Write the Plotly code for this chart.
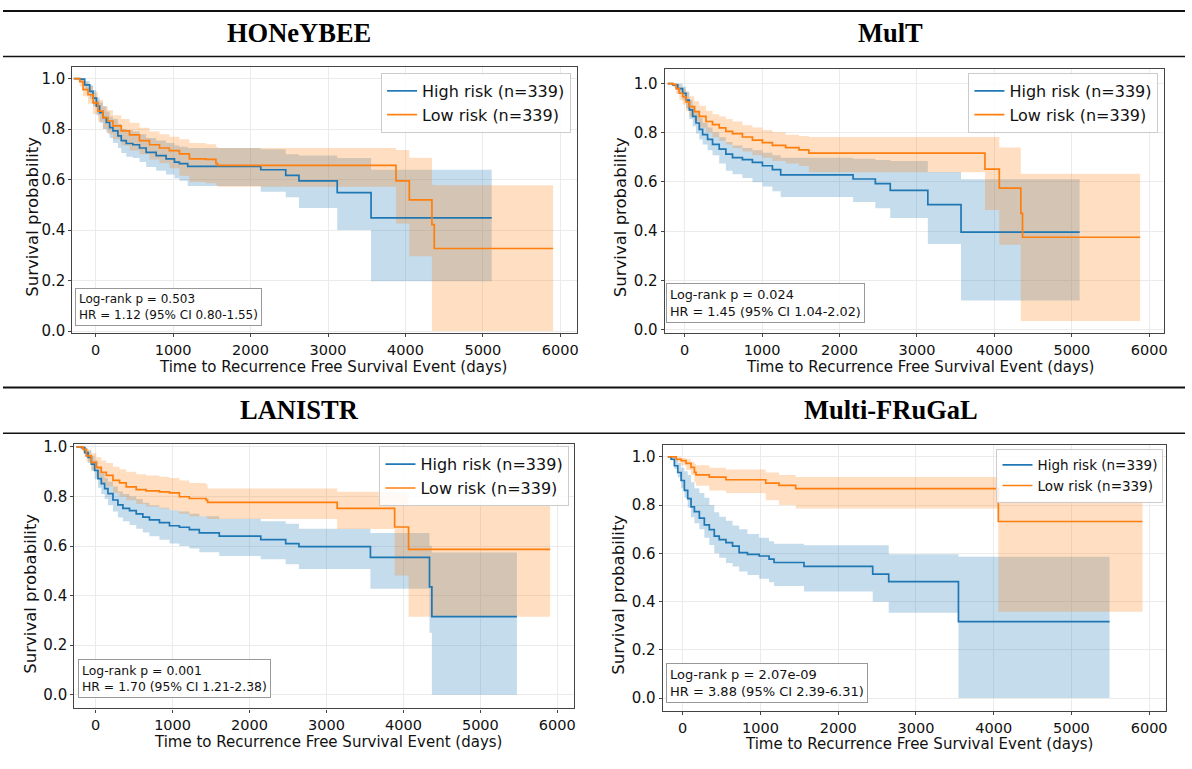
import plotly.graph_objects as go

W, H = 1192, 769
BLUE = "#1f77b4"
ORANGE = "#ff7f0e"
BLUE_FILL = "rgba(31,119,180,0.26)"
ORANGE_FILL = "rgba(255,127,14,0.26)"

# ---------------- data ----------------
titles = ["HONeYBEE", "MulT", "LANISTR", "Multi-FRuGaL"]
legend_labels = ["High risk (n=339)", "Low risk (n=339)"]
stats_text = [
    "Log-rank p = 0.503<br>HR = 1.12 (95% CI 0.80-1.55)",
    "Log-rank p = 0.024<br>HR = 1.45 (95% CI 1.04-2.02)",
    "Log-rank p = 0.001<br>HR = 1.70 (95% CI 1.21-2.38)",
    "Log-rank p = 2.07e-09<br>HR = 3.88 (95% CI 2.39-6.31)",
]
x_title = "Time to Recurrence Free Survival Event (days)"
y_title = "Survival probability"
x_ticks = [0, 1000, 2000, 3000, 4000, 5000, 6000]
y_ticks = [0.0, 0.2, 0.4, 0.6, 0.8, 1.0]

# HONeYBEE - high risk
hb_high_t = [-283, -206, -142, -77, -34, 9, 51, 94, 137, 180, 223, 287, 330, 395, 480, 566, 652, 781, 909, 1017, 1081, 1188, 2132, 2454, 2625, 3119, 3556]
hb_high_s = [1.0, 0.998, 0.975, 0.949, 0.923, 0.891, 0.865, 0.845, 0.826, 0.806, 0.793, 0.773, 0.754, 0.743, 0.738, 0.725, 0.708, 0.695, 0.682, 0.669, 0.663, 0.652, 0.639, 0.617, 0.595, 0.548, 0.448]
hb_high_lo = [1.0, 0.99, 0.955, 0.92, 0.89, 0.855, 0.825, 0.80, 0.785, 0.765, 0.745, 0.725, 0.705, 0.69, 0.685, 0.67, 0.65, 0.635, 0.62, 0.605, 0.595, 0.575, 0.552, 0.53, 0.487, 0.40, 0.197]
hb_high_hi = [1.0, 1.0, 0.99, 0.975, 0.955, 0.925, 0.905, 0.89, 0.87, 0.85, 0.84, 0.82, 0.80, 0.795, 0.79, 0.78, 0.765, 0.755, 0.745, 0.735, 0.73, 0.725, 0.72, 0.70, 0.695, 0.685, 0.639]
hb_high_end = 5114
# HONeYBEE - low risk
hb_low_t = [-283, -206, -163, -99, -34, 30, 94, 158, 223, 330, 437, 566, 695, 824, 952, 1081, 1210, 1424, 1553, 1574, 3878, 4050, 4342, 4372]
hb_low_s = [1.0, 0.988, 0.956, 0.936, 0.904, 0.871, 0.845, 0.832, 0.8125, 0.793, 0.777, 0.754, 0.738, 0.725, 0.715, 0.702, 0.682, 0.680, 0.663, 0.656, 0.595, 0.520, 0.422, 0.327]
hb_low_lo = [1.0, 0.97, 0.93, 0.90, 0.86, 0.83, 0.80, 0.78, 0.76, 0.735, 0.715, 0.70, 0.68, 0.665, 0.645, 0.615, 0.59, 0.585, 0.578, 0.572, 0.426, 0.296, 0.0, 0.0]
hb_low_hi = [1.0, 1.0, 0.985, 0.97, 0.945, 0.915, 0.89, 0.875, 0.855, 0.84, 0.825, 0.805, 0.79, 0.78, 0.77, 0.76, 0.745, 0.74, 0.73, 0.725, 0.717, 0.686, 0.58, 0.578]
hb_low_end = 5907

# MulT - high risk
mt_high_t = [-219, -154, -90, -26, 17, 60, 103, 146, 189, 232, 296, 360, 446, 532, 618, 746, 875, 1004, 1133, 1240, 2175, 2462, 2655, 3140, 3569]
mt_high_s = [1.0, 0.995, 0.980, 0.961, 0.933, 0.893, 0.867, 0.840, 0.814, 0.793, 0.773, 0.753, 0.734, 0.713, 0.699, 0.691, 0.680, 0.666, 0.650, 0.629, 0.612, 0.593, 0.566, 0.508, 0.396]
mt_high_lo = [1.0, 0.99, 0.959, 0.934, 0.900, 0.856, 0.827, 0.797, 0.773, 0.753, 0.729, 0.709, 0.675, 0.646, 0.631, 0.616, 0.599, 0.582, 0.562, 0.539, 0.519, 0.493, 0.453, 0.348, 0.118]
mt_high_hi = [1.0, 1.0, 1.0, 0.988, 0.968, 0.934, 0.910, 0.885, 0.861, 0.841, 0.822, 0.802, 0.782, 0.763, 0.748, 0.738, 0.729, 0.719, 0.709, 0.699, 0.694, 0.689, 0.685, 0.641, 0.611]
mt_high_end = 5100
# MulT - low risk
mt_low_t = [-219, -154, -112, -69, -26, 17, 60, 124, 189, 275, 360, 446, 532, 618, 746, 875, 1004, 1133, 1304, 1476, 1604, 3878, 4063, 4341, 4363]
mt_low_s = [1.0, 0.997, 0.980, 0.961, 0.947, 0.926, 0.907, 0.886, 0.867, 0.846, 0.833, 0.820, 0.806, 0.797, 0.783, 0.770, 0.760, 0.749, 0.740, 0.731, 0.717, 0.652, 0.575, 0.472, 0.375]
mt_low_lo = [1.0, 0.988, 0.959, 0.934, 0.915, 0.890, 0.866, 0.846, 0.822, 0.802, 0.782, 0.768, 0.753, 0.738, 0.724, 0.709, 0.699, 0.685, 0.675, 0.665, 0.640, 0.486, 0.345, 0.034, 0.034]
mt_low_hi = [1.0, 1.0, 1.0, 0.988, 0.978, 0.964, 0.949, 0.929, 0.910, 0.890, 0.876, 0.866, 0.856, 0.846, 0.831, 0.822, 0.812, 0.802, 0.792, 0.787, 0.783, 0.783, 0.740, 0.633, 0.633]
mt_low_end = 5882

# LANISTR - high risk
ln_high_t = [-250, -186, -142, -99, -56, -13, 30, 73, 117, 160, 225, 289, 354, 440, 527, 613, 699, 829, 959, 1088, 1218, 1347, 1606, 2146, 2470, 2642, 3571, 4339, 4370]
ln_high_s = [1.0, 0.997, 0.977, 0.958, 0.931, 0.905, 0.872, 0.852, 0.832, 0.812, 0.786, 0.766, 0.752, 0.743, 0.730, 0.717, 0.706, 0.695, 0.682, 0.676, 0.666, 0.653, 0.640, 0.626, 0.610, 0.598, 0.554, 0.435, 0.315]
ln_high_lo = [1.0, 0.99, 0.96, 0.935, 0.905, 0.87, 0.835, 0.81, 0.79, 0.765, 0.74, 0.715, 0.70, 0.685, 0.67, 0.655, 0.64, 0.625, 0.61, 0.60, 0.59, 0.575, 0.56, 0.547, 0.527, 0.507, 0.428, 0.25, 0.0]
ln_high_hi = [1.0, 1.0, 0.995, 0.985, 0.965, 0.945, 0.915, 0.895, 0.875, 0.86, 0.84, 0.82, 0.81, 0.80, 0.79, 0.775, 0.765, 0.755, 0.745, 0.74, 0.73, 0.72, 0.71, 0.70, 0.69, 0.67, 0.653, 0.60, 0.574]
ln_high_end = 5475
# LANISTR - low risk
ln_low_t = [-250, -163, -121, -56, 9, 73, 138, 225, 311, 397, 527, 656, 829, 959, 1088, 1218, 1434, 1455, 3139, 3886, 4067]
ln_low_s = [1.0, 0.99, 0.964, 0.938, 0.918, 0.898, 0.885, 0.865, 0.855, 0.839, 0.828, 0.823, 0.819, 0.815, 0.799, 0.792, 0.786, 0.776, 0.752, 0.677, 0.587]
ln_low_lo = [1.0, 0.975, 0.94, 0.905, 0.88, 0.855, 0.84, 0.815, 0.80, 0.785, 0.77, 0.76, 0.752, 0.745, 0.73, 0.72, 0.715, 0.709, 0.669, 0.481, 0.315]
ln_low_hi = [1.0, 1.0, 0.99, 0.975, 0.96, 0.945, 0.935, 0.92, 0.91, 0.90, 0.89, 0.885, 0.88, 0.875, 0.865, 0.855, 0.85, 0.832, 0.819, 0.815, 0.766]
ln_low_end = 5907

# Multi-FRuGaL - high risk
mf_high_t = [-192, -150, -107, -64, -21, 21, 64, 107, 150, 214, 278, 342, 406, 470, 556, 641, 726, 833, 983, 1111, 1175, 1560, 2444, 2650, 3547]
mf_high_s = [1.0, 0.990, 0.963, 0.935, 0.902, 0.861, 0.827, 0.793, 0.773, 0.746, 0.718, 0.698, 0.671, 0.657, 0.644, 0.630, 0.603, 0.596, 0.589, 0.576, 0.562, 0.546, 0.514, 0.483, 0.317]
mf_high_lo = [1.0, 0.985, 0.95, 0.915, 0.87, 0.83, 0.79, 0.75, 0.725, 0.70, 0.665, 0.635, 0.60, 0.582, 0.56, 0.545, 0.525, 0.51, 0.495, 0.48, 0.465, 0.442, 0.399, 0.354, 0.0]
mf_high_hi = [1.0, 1.0, 0.99, 0.975, 0.955, 0.94, 0.925, 0.895, 0.87, 0.85, 0.83, 0.80, 0.77, 0.752, 0.735, 0.715, 0.70, 0.68, 0.665, 0.65, 0.64, 0.633, 0.633, 0.596, 0.586]
mf_high_end = 5491
# Multi-FRuGaL - low risk
mf_low_t = [-192, -85, -21, 43, 107, 150, 171, 342, 556, 1068, 1239, 1453, 4060]
mf_low_s = [1.0, 0.990, 0.984, 0.973, 0.956, 0.936, 0.925, 0.916, 0.905, 0.891, 0.882, 0.868, 0.732]
mf_low_lo = [1.0, 0.98, 0.965, 0.945, 0.925, 0.895, 0.88, 0.86, 0.85, 0.82, 0.80, 0.786, 0.358]
mf_low_hi = [1.0, 1.0, 0.995, 0.99, 0.98, 0.97, 0.965, 0.955, 0.948, 0.935, 0.925, 0.916, 0.816]
mf_low_end = 5915

panels_data = [
    ((hb_high_t, hb_high_s, hb_high_lo, hb_high_hi, hb_high_end),
     (hb_low_t, hb_low_s, hb_low_lo, hb_low_hi, hb_low_end)),
    ((mt_high_t, mt_high_s, mt_high_lo, mt_high_hi, mt_high_end),
     (mt_low_t, mt_low_s, mt_low_lo, mt_low_hi, mt_low_end)),
    ((ln_high_t, ln_high_s, ln_high_lo, ln_high_hi, ln_high_end),
     (ln_low_t, ln_low_s, ln_low_lo, ln_low_hi, ln_low_end)),
    ((mf_high_t, mf_high_s, mf_high_lo, mf_high_hi, mf_high_end),
     (mf_low_t, mf_low_s, mf_low_lo, mf_low_hi, mf_low_end)),
]

# ---------------- layout geometry (pixels) ----------------
geom = [
    dict(box=(72.7, 578.6, 62.7, 333.3), xr=(-300, 6211), yr=(-0.008, 1.047),
         title=(300, 28), leg=(573, 69, 16), stats=(75.4, 325.7, 12.0),
         xt=(334, 367.5), yt=(32.5, 214.7)),
    dict(box=(667, 1167.7, 64.7, 333.3), xr=(-257, 6187), yr=(-0.015, 1.061),
         title=(893.4, 28), leg=(1162.3, 69, 16), stats=(668.7, 323.3, 12.8),
         xt=(922.8, 367.5), yt=(622.8, 215.8)),
    dict(box=(74.6, 576, 445.7, 714.5), xr=(-277, 6218), yr=(-0.055, 1.013),
         title=(300.4, 411), leg=(571.4, 448.3, 16), stats=(78.5, 704.3, 12.4),
         xt=(329, 748.5), yt=(30.6, 597.5)),
    dict(box=(664.9, 1170, 447, 717.3), xr=(-258, 6218), yr=(-0.054, 1.049),
         title=(893.6, 411), leg=(1167.4, 450.7, 13.5), stats=(668.7, 709, 13.0),
         xt=(922.2, 751.0), yt=(620.9, 599.2)),
]


def fx(px):
    return px / W


def fy(py):
    return 1 - py / H


FONT = "DejaVu Sans"
fig = go.Figure()
layout = dict(
    width=W, height=H, autosize=False,
    margin=dict(l=0, r=0, t=0, b=0),
    paper_bgcolor="white", plot_bgcolor="white",
    font=dict(family=FONT, color="#111111"),
    showlegend=True,
)
annotations = []
shapes = []

for i, (g, pdata) in enumerate(zip(geom, panels_data)):
    n = "" if i == 0 else str(i + 1)
    xa, ya = "x" + n, "y" + n
    leg = "legend" + n
    x0, x1, y0, y1 = g["box"]
    layout["xaxis" + n] = dict(
        domain=[fx(x0), fx(x1)], range=list(g["xr"]), anchor=ya,
        tickvals=x_ticks, ticks="outside", ticklen=3, tickcolor="#444",
        showline=True, linecolor="#444", linewidth=1.3, mirror=True,
        showgrid=True, gridcolor="#ebebeb", gridwidth=1, zeroline=False,
        tickfont=dict(family=FONT, size=14.5, color="#111"),
    )
    layout["yaxis" + n] = dict(
        domain=[fy(y1), fy(y0)], range=list(g["yr"]), anchor=xa,
        tickvals=y_ticks, tickformat=".1f", ticks="outside", ticklen=3, tickcolor="#444",
        showline=True, linecolor="#444", linewidth=1.3, mirror=True,
        showgrid=True, gridcolor="#ebebeb", gridwidth=1, zeroline=False,
        tickfont=dict(family=FONT, size=15, color="#111"),
    )
    lx, ly, lfs = g["leg"]
    layout[leg] = dict(
        x=fx(lx), y=fy(ly), xanchor="right", yanchor="top", traceorder="normal",
        bgcolor="rgba(255,255,255,0.85)", bordercolor="#cccccc", borderwidth=1,
        font=dict(family=FONT, size=lfs, color="#111"), tracegroupgap=0,
    )

    colors = [(BLUE, BLUE_FILL), (ORANGE, ORANGE_FILL)]
    # confidence bands first
    for (t, s, lo, hi, end), (col, fcol) in zip(pdata, colors):
        tt = list(t) + [end]
        fig.add_trace(go.Scatter(
            x=tt, y=list(hi) + [hi[-1]], xaxis=xa, yaxis=ya, mode="lines",
            line=dict(width=0, shape="hv", color=col), hoverinfo="skip", showlegend=False))
        fig.add_trace(go.Scatter(
            x=tt, y=list(lo) + [lo[-1]], xaxis=xa, yaxis=ya, mode="lines",
            line=dict(width=0, shape="hv", color=col), fill="tonexty", fillcolor=fcol,
            hoverinfo="skip", showlegend=False))
    # survival curves
    for (t, s, lo, hi, end), (col, fcol), lab in zip(pdata, colors, legend_labels):
        fig.add_trace(go.Scatter(
            x=list(t) + [end], y=list(s) + [s[-1]], xaxis=xa, yaxis=ya, mode="lines",
            line=dict(width=1.7, shape="hv", color=col), name=lab, legend=leg))

    # panel title
    tx, ty = g["title"]
    annotations.append(dict(
        x=fx(tx), y=fy(ty), xref="paper", yref="paper", text=titles[i], showarrow=False,
        xanchor="center", yanchor="middle",
        font=dict(family="Liberation Serif", size=26.5, color="#000", weight="bold")))
    # axis titles
    ax_, ay_ = g["xt"]
    annotations.append(dict(
        x=fx(ax_), y=fy(ay_), xref="paper", yref="paper", text=x_title, showarrow=False,
        xanchor="center", yanchor="middle", font=dict(family=FONT, size=15, color="#111")))
    bx, by = g["yt"]
    annotations.append(dict(
        x=fx(bx), y=fy(by), xref="paper", yref="paper", text=y_title, showarrow=False,
        textangle=-90, xanchor="center", yanchor="middle",
        font=dict(family=FONT, size=16.5, color="#111")))
    # stats box
    sx, sy, sfs = g["stats"]
    annotations.append(dict(
        x=fx(sx), y=fy(sy), xref="paper", yref="paper", text=stats_text[i], showarrow=False,
        xanchor="left", yanchor="bottom", align="left",
        bgcolor="rgba(255,255,255,0.9)", bordercolor="#999999", borderwidth=1, borderpad=3,
        font=dict(family=FONT, size=sfs, color="#111")))

# horizontal rules of the table layout
for ry, lw in [(6, 2.0), (52.3, 1.5), (388.5, 2.0), (435, 1.5)]:
    shapes.append(dict(type="line", xref="paper", yref="paper",
                       x0=fx(3), x1=fx(1189), y0=fy(ry), y1=fy(ry),
                       line=dict(color="#111111", width=lw)))

layout["annotations"] = annotations
layout["shapes"] = shapes
fig.update_layout(**layout)
fig.write_html(
    "out.html",
    config={"displayModeBar": False},
    post_script="document.body.style.margin='0px';document.body.style.overflow='hidden';",
)
